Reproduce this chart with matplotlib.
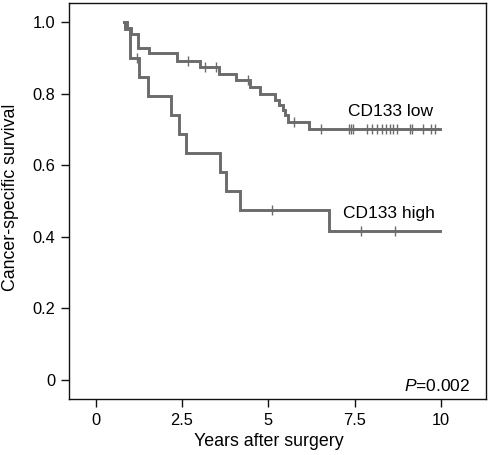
import matplotlib
matplotlib.use("Agg")
import matplotlib.pyplot as plt

plt.rcParams['font.family'] = ['Liberation Sans', 'DejaVu Sans']
plt.rcParams['mathtext.fontset'] = 'custom'
plt.rcParams['mathtext.it'] = 'Liberation Sans:italic'
plt.rcParams['mathtext.rm'] = 'Liberation Sans'

# Kaplan-Meier step data (time in years, survival after the step)
low_times = [0.83, 0.90, 1.02, 1.23, 1.56, 2.36, 3.02, 3.57, 4.08, 4.47, 4.76, 5.19, 5.31, 5.43, 5.50, 5.58, 6.18, 9.97]
low_surv = [1.0, 0.982, 0.966, 0.926, 0.912, 0.892, 0.875, 0.856, 0.838, 0.817, 0.799, 0.782, 0.768, 0.754, 0.740, 0.720, 0.700, 0.700]
low_cens_t = [2.68, 3.17, 3.50, 4.42, 5.75, 6.52, 7.35, 7.40, 7.45, 7.87, 8.00, 8.14, 8.29, 8.41, 8.53, 8.62, 8.74, 9.10, 9.17, 9.49, 9.73, 9.83]
low_cens_s = [0.892, 0.875, 0.875, 0.838, 0.720] + [0.700] * 17

high_times = [0.83, 0.86, 1.00, 1.26, 1.52, 2.18, 2.42, 2.61, 3.60, 3.77, 4.18, 6.77, 9.99]
high_surv = [1.0, 0.980, 0.898, 0.845, 0.793, 0.740, 0.687, 0.635, 0.582, 0.529, 0.476, 0.417, 0.417]
high_cens_t = [1.19, 5.10, 7.68, 8.67]
high_cens_s = [0.898, 0.476, 0.417, 0.417]

xticks = [0, 2.5, 5, 7.5, 10]
xticklabels = ["0", "2.5", "5", "7.5", "10"]
yticks = [0, 0.2, 0.4, 0.6, 0.8, 1.0]
yticklabels = ["0", "0.2", "0.4", "0.6", "0.8", "1.0"]

W, H = 490, 455
fig = plt.figure(figsize=(W / 100, H / 100), dpi=100)
ax = fig.add_axes([69 / W, 1 - 399 / H, (485.7 - 69) / W, (399 - 3) / H])

col = '#6b6b6b'
ax.step(low_times, low_surv, where='post', color=col, lw=2.1, solid_joinstyle='miter')
ax.step(high_times, high_surv, where='post', color=col, lw=2.1, solid_joinstyle='miter')
ax.plot(low_cens_t, low_cens_s, ls='none', marker='|', ms=6.5, mew=1.0, color=col)
ax.plot(high_cens_t, high_cens_s, ls='none', marker='|', ms=6.5, mew=1.0, color=col)

ax.set_xlim(-0.77, 11.30)
ax.set_ylim(-0.053, 1.053)
ax.set_xticks(xticks)
ax.set_xticklabels(xticklabels)
ax.set_yticks(yticks)
ax.set_yticklabels(yticklabels)
ax.tick_params(direction='out', length=6, width=1.0, labelsize=11.8, pad=4, color='#111111')
for s in ax.spines.values():
    s.set_linewidth(1.0)
    s.set_color('#111111')

ax.text(7.31, 0.749, "CD133 low", fontsize=12.5, ha='left', va='center')
ax.text(7.16, 0.464, "CD133 high", fontsize=12.5, ha='left', va='center')
ax.text(0.962, 0.033, r"$\mathit{P}$=0.002", fontsize=12.5, ha='right', va='center',
        transform=ax.transAxes)

fig.text(15 / W, 1 - 197 / H, "Cancer-specific survival", fontsize=12.8, rotation=90,
         rotation_mode='anchor', ha='center', va='baseline')
fig.text(268.5 / W, 1 - 446 / H, "Years after surgery", fontsize=12.8, ha='center', va='baseline')

fig.savefig("out.png", dpi=100)
